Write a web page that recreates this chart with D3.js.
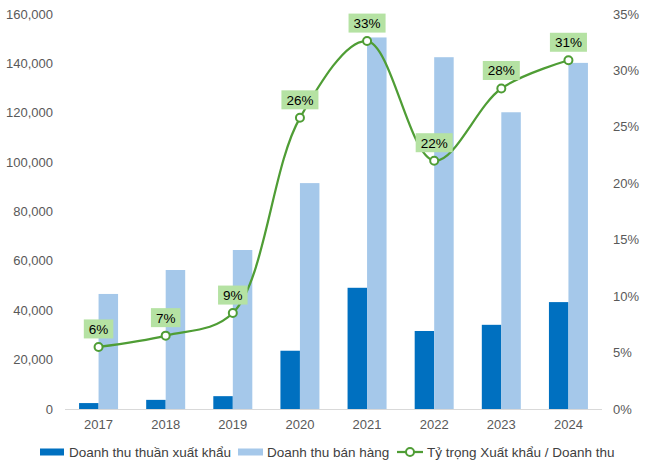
<!DOCTYPE html>
<html>
<head>
<meta charset="utf-8">
<script src="https://cdn.jsdelivr.net/npm/d3@7"></script>
<style>
  body { margin: 0; background: #fff; }
  svg { font-family: Arial, "Liberation Sans", sans-serif; }
</style>
</head>
<body>
<svg id="chart" width="648" height="468"></svg>
<script>
// Data
const years = ["2017", "2018", "2019", "2020", "2021", "2022", "2023", "2024"];
const exportRevenue = [2400, 3700, 5200, 23600, 49100, 31600, 34100, 43300];
const salesRevenue = [46600, 56300, 64400, 91500, 150500, 142500, 120200, 140200];
const exportShare = [5.5, 6.5, 8.5, 25.8, 32.6, 22.0, 28.4, 30.9];
const shareLabels = ["6%", "7%", "9%", "26%", "33%", "22%", "28%", "31%"];
const leftTicks = [0, 20000, 40000, 60000, 80000, 100000, 120000, 140000, 160000];
const rightTicks = [0, 5, 10, 15, 20, 25, 30, 35];
const seriesNames = ["Doanh thu thuần xuất khẩu", "Doanh thu bán hàng", "Tỷ trọng Xuất khẩu / Doanh thu"];

const darkBlue = "#0070c0";
const lightBlue = "#a5c8ea";
const green = "#4f9d35";
const labelFill = "#b5e2a3";

const svg = d3.select("#chart");
const plot = { left: 65, right: 602, top: 14, bottom: 409 };

const x = d3.scaleBand()
    .domain(years)
    .range([plot.left, plot.right]);

const yLeft = d3.scaleLinear()
    .domain([0, 160000])
    .range([plot.bottom, plot.top]);

const yRight = d3.scaleLinear()
    .domain([0, 35])
    .range([plot.bottom, plot.top]);

const barW = 19.5;

// Left axis labels
svg.append("g")
    .selectAll("text")
    .data(leftTicks)
    .enter()
    .append("text")
    .attr("x", 53)
    .attr("y", d => yLeft(d))
    .attr("dy", "0.35em")
    .attr("text-anchor", "end")
    .style("font-size", "13px")
    .style("fill", "#595959")
    .text(d => d3.format(",")(d));

// Right axis labels
svg.append("g")
    .selectAll("text")
    .data(rightTicks)
    .enter()
    .append("text")
    .attr("x", 613)
    .attr("y", d => yRight(d))
    .attr("dy", "0.35em")
    .attr("text-anchor", "start")
    .style("font-size", "13px")
    .style("fill", "#595959")
    .text(d => d + "%");

// Bars
svg.append("g")
    .selectAll("rect")
    .data(years)
    .enter()
    .append("rect")
    .attr("x", d => x(d) + x.bandwidth() / 2 - barW)
    .attr("y", (d, i) => yLeft(exportRevenue[i]))
    .attr("width", barW)
    .attr("height", (d, i) => plot.bottom - yLeft(exportRevenue[i]))
    .attr("fill", darkBlue);

svg.append("g")
    .selectAll("rect")
    .data(years)
    .enter()
    .append("rect")
    .attr("x", d => x(d) + x.bandwidth() / 2)
    .attr("y", (d, i) => yLeft(salesRevenue[i]))
    .attr("width", barW)
    .attr("height", (d, i) => plot.bottom - yLeft(salesRevenue[i]))
    .attr("fill", lightBlue);

// Baseline
svg.append("line")
    .attr("x1", plot.left)
    .attr("x2", plot.right)
    .attr("y1", plot.bottom + 0.5)
    .attr("y2", plot.bottom + 0.5)
    .attr("stroke", "#d9d9d9")
    .attr("stroke-width", 1);

// X labels
svg.append("g")
    .selectAll("text")
    .data(years)
    .enter()
    .append("text")
    .attr("x", d => x(d) + x.bandwidth() / 2)
    .attr("y", 424)
    .attr("dy", "0.35em")
    .attr("text-anchor", "middle")
    .style("font-size", "13px")
    .style("fill", "#595959")
    .text(d => d);

// Share line
const pts = years.map((d, i) => [x(d) + x.bandwidth() / 2, yRight(exportShare[i])]);
const line = d3.line().curve(d3.curveCatmullRom.alpha(0.5));

svg.append("path")
    .attr("d", line(pts))
    .attr("fill", "none")
    .attr("stroke", green)
    .attr("stroke-width", 2.25);

svg.append("g")
    .selectAll("circle")
    .data(pts)
    .enter()
    .append("circle")
    .attr("cx", d => d[0])
    .attr("cy", d => d[1])
    .attr("r", 4)
    .attr("fill", "#fff")
    .attr("stroke", green)
    .attr("stroke-width", 2);

// Data labels with green boxes
const labels = svg.append("g")
    .selectAll("g")
    .data(pts)
    .enter()
    .append("g")
    .attr("transform", d => `translate(${d[0]},${d[1] - 18})`);

const boxes = labels.append("rect")
    .attr("y", -9.5)
    .attr("height", 19)
    .attr("fill", labelFill);

labels.append("text")
    .attr("text-anchor", "middle")
    .attr("dy", "0.36em")
    .style("font-size", "13.5px")
    .style("fill", "#000")
    .text((d, i) => shareLabels[i])
    .each(function(d, i) {
        const w = this.getComputedTextLength() + 10;
        d3.select(boxes.nodes()[i]).attr("x", -w / 2).attr("width", w);
    });

// Legend
const legend = svg.append("g").attr("transform", "translate(0,452)");
legend.append("rect").attr("x", 40).attr("y", -3.5).attr("width", 24).attr("height", 7).attr("fill", darkBlue);
legend.append("text").attr("x", 69).attr("dy", "0.35em").style("font-size", "13.5px").style("fill", "#404040").text(seriesNames[0]);
legend.append("rect").attr("x", 238).attr("y", -3.5).attr("width", 25).attr("height", 7).attr("fill", lightBlue);
legend.append("text").attr("x", 267).attr("dy", "0.35em").style("font-size", "13.5px").style("fill", "#404040").text(seriesNames[1]);
legend.append("line").attr("x1", 397).attr("x2", 423).attr("y1", 0).attr("y2", 0).attr("stroke", green).attr("stroke-width", 2.25);
legend.append("circle").attr("cx", 410).attr("cy", 0).attr("r", 4).attr("fill", "#fff").attr("stroke", green).attr("stroke-width", 2);
legend.append("text").attr("x", 427).attr("dy", "0.35em").style("font-size", "13.5px").style("fill", "#404040").text(seriesNames[2]);
</script>
</body>
</html>
